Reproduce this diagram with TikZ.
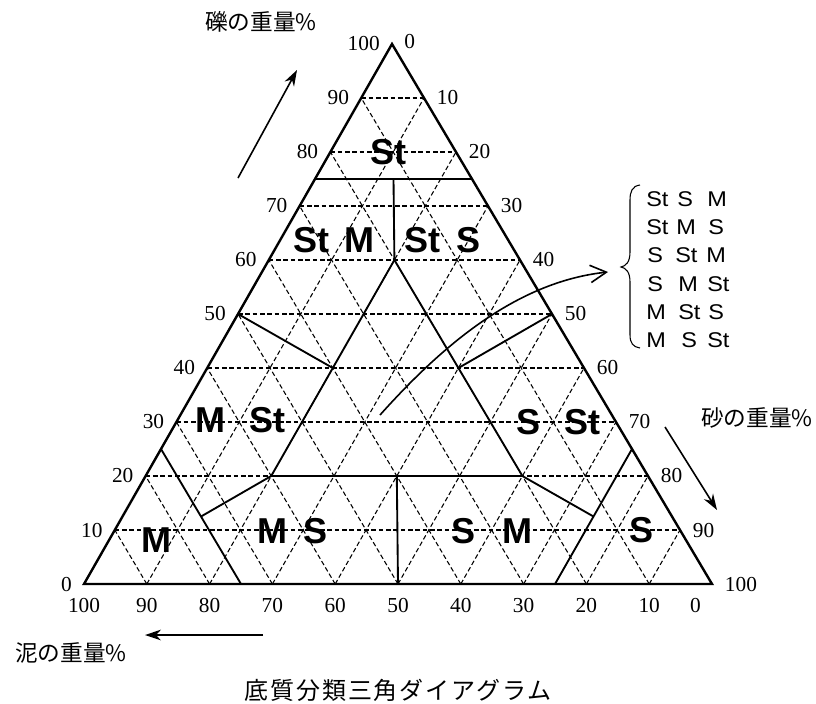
\documentclass[tikz,border=0pt]{standalone}
\usepackage{fontspec}
\setmainfont{Liberation Serif}
\newfontfamily\regfont{Liberation Sans}
\newfontfamily\legfont[FakeStretch=1.1]{Liberation Sans}
\newfontfamily\cjk{Noto Sans CJK JP}
\newfontfamily\cjkcap[LetterSpace=8]{Noto Sans CJK JP}
\usetikzlibrary{arrows.meta,calc}
\begin{document}
\begin{tikzpicture}[x=0.75pt,y=-0.75pt,
  grid/.style={line width=0.8pt, dash pattern=on 3.5pt off 2pt},
  bound/.style={line width=1.4pt},
  outline/.style={line width=1.8pt, line join=miter},
  num/.style={font=\fontsize{16}{16}\selectfont, inner sep=0pt},
  reg/.style={font=\regfont\bfseries\fontsize{27}{27}\selectfont, inner sep=0pt},
  leg/.style={font=\legfont\fontsize{16}{16}\selectfont, inner sep=0pt, anchor=base west},
  ttl/.style={font=\cjk\fontsize{17}{17}\selectfont, inner sep=0pt},
  axarrow/.style={line width=1.2pt, -{Stealth[length=12pt,width=8pt]}},
  curvearrow/.style={line width=1.2pt, -{Straight Barb[length=12pt,width=13pt,line width=1.2pt]}}
]
\useasboundingbox (0,0) rectangle (816,703);

% ternary frame: (s,g) coordinates, sand along base, gravel upward
\begin{scope}[shift={(84,584)}, x={(4.71pt,0pt)}, y={(2.31pt,4.05pt)}]
  \coordinate (BL) at (0,0);
  \coordinate (BR) at (100,0);
  \coordinate (AP) at (0,100);
  \foreach \k in {10,20,...,90}{
    \draw[grid] (0,\k) -- ({100-\k},\k);
    \draw[grid] ({100-\k},0) -- (0,{100-\k});
    \draw[grid] (\k,0) -- (\k,{100-\k});
  }
  % class boundaries
  \draw[bound] (0,75) -- (25,75);
  \draw[bound] (12.5,75) -- (20,60);
  \draw[bound] (20,60) -- (20,20);
  \draw[bound] (20,60) -- (60,20);
  \draw[bound] (20,20) -- (60,20);
  \draw[bound] (40,20) -- (50,0);
  \draw[bound] (0,50) -- (20,40);
  \draw[bound] (50,50) -- (40,40);
  \draw[bound] (25,0) -- (0,25);
  \draw[bound] (20,20) -- (12.5,12.5);
  \draw[bound] (75,0) -- (75,25);
  \draw[bound] (60,20) -- (75,12.5);
  \draw[outline] (BL) -- (BR) -- (AP) -- cycle;
  % gravel axis (left)
  \foreach \k in {0,10,...,100}{
    \node[num,anchor=east,xshift=-9pt] (gl\k) at (0,\k) {\k};
  }
  % sand axis (right)
  \node[num,anchor=west,xshift=9pt,yshift=2pt] (sl0) at (0,100) {0};
  \foreach \k in {10,20,...,100}{
    \node[num,anchor=west,xshift=9.5pt] (sl\k) at (\k,{100-\k}) {\k};
  }
  % mud axis (bottom)
  \foreach \k in {10,20,...,100}{
    \node[num,anchor=north,yshift=-10.5pt] (ml\k) at ({100-\k},0) {\k};
  }
  \node[num,anchor=north,yshift=-10.5pt,xshift=-12.5pt] (ml0) at (100,0) {0};
\end{scope}

% region labels
\node[reg] (r1) at (388,152) {St};
\node[reg] (r2a) at (311,240) {St};
\node[reg] (r2b) at (359,240) {M};
\node[reg] (r3a) at (422,240) {St};
\node[reg] (r3b) at (468,240) {S};
\node[reg] (r4a) at (210,420) {M};
\node[reg] (r4b) at (267,420) {St};
\node[reg] (r5a) at (528,422) {S};
\node[reg] (r5b) at (582,422) {St};
\node[reg] (r6) at (156,540) {M};
\node[reg] (r7a) at (272,531) {M};
\node[reg] (r7b) at (315,531) {S};
\node[reg] (r8a) at (463,531) {S};
\node[reg] (r8b) at (517,531) {M};
\node[reg] (r9) at (641,530) {S};

% axis titles and arrows
\node[ttl] (tg) at (261,22) {礫の重量\%};
\node[ttl] (ts) at (757,418) {砂の重量\%};
\node[ttl] (tm) at (71,653) {泥の重量\%};
\coordinate (ag1) at (238,178); \coordinate (ag2) at (297,70);
\coordinate (as1) at (665,427); \coordinate (as2) at (717,510);
\coordinate (am1) at (263,635); \coordinate (am2) at (145,635);
\draw[axarrow] (ag1) -- (ag2);
\draw[axarrow] (as1) -- (as2);
\draw[axarrow] (am1) -- (am2);

% curved arrow to legend
\coordinate (cs) at (380,415);
\coordinate (ce) at (608,272);
\draw[curvearrow] (cs) .. controls (440,348) and (515,282) .. (ce);

% brace
\draw[line width=0.8pt] (640,185) .. controls (632,186) and (630,192) .. (630,200)
  -- (630,252) .. controls (630,262) and (626,266) .. (621,267)
  .. controls (626,268) and (630,272) .. (630,282)
  -- (630,335) .. controls (630,343) and (633,347) .. (640,348);

% legend
\node[leg] (l1a) at (646,206) {St}; \node[leg] (l1b) at (677,206) {S};  \node[leg] (l1c) at (707,206) {M};
\node[leg] (l2a) at (646,234) {St}; \node[leg] (l2b) at (676,234) {M};  \node[leg] (l2c) at (708,234) {S};
\node[leg] (l3a) at (647,262) {S};  \node[leg] (l3b) at (675,262) {St}; \node[leg] (l3c) at (706,262) {M};
\node[leg] (l4a) at (647,291) {S};  \node[leg] (l4b) at (678,291) {M};  \node[leg] (l4c) at (707,291) {St};
\node[leg] (l5a) at (646,319) {M};  \node[leg] (l5b) at (678,319) {St}; \node[leg] (l5c) at (708,319) {S};
\node[leg] (l6a) at (646,347) {M};  \node[leg] (l6b) at (681,347) {S};  \node[leg] (l6c) at (707,347) {St};

% caption
\node[font=\cjkcap\fontsize{18}{18}\selectfont, inner sep=0pt] (cap) at (398,690) {底質分類三角ダイアグラム};
\end{tikzpicture}
\end{document}
